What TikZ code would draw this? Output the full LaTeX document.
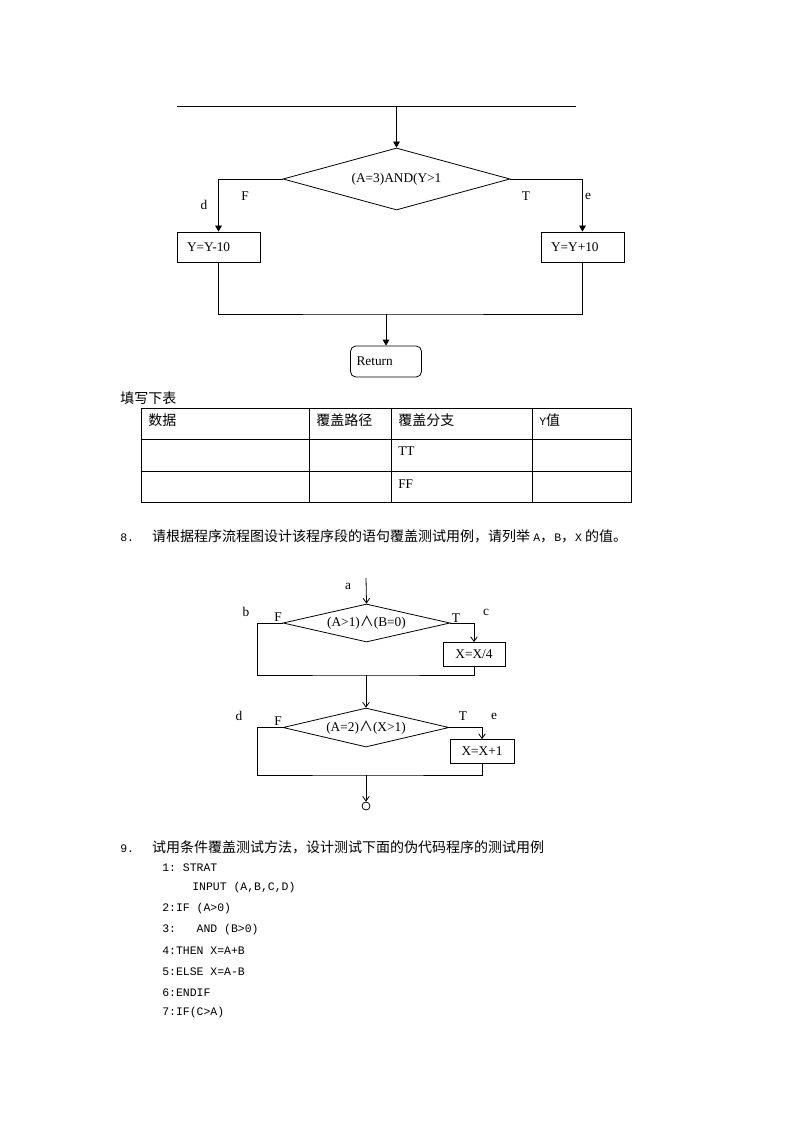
\documentclass[tikz,border=0pt]{standalone}
\usepackage{fontspec}
\setmainfont{Liberation Serif}
\setmonofont{Liberation Mono}
\newfontfamily\cjk{Noto Sans CJK SC}
\usetikzlibrary{shapes.geometric, arrows.meta}

\tikzset{
  flowline/.style={line width=0.6pt},
  fillarrow/.style={flowline, -{Triangle[length=4.5pt,width=5pt]}},
  openarrow/.style={flowline, -{Straight Barb[length=3.5pt,width=5pt]}},
  procbox/.style={draw, line width=0.6pt, inner sep=0pt, font=\fontsize{10}{12}\selectfont},
  decision/.style={draw, diamond, line width=0.6pt, inner sep=0pt, font=\fontsize{10}{12}\selectfont},
  lbl/.style={inner sep=0pt, font=\fontsize{10}{12}\selectfont},
  cntext/.style={anchor=west, inner sep=0pt, font=\cjk\fontsize{10.5}{12}\selectfont},
  codeline/.style={anchor=west, inner sep=0pt, font=\ttfamily\fontsize{8.6}{10}\selectfont},
}
\newcommand{\andsym}{{\cjk\fontsize{10.5}{12}\selectfont ∧}}

\begin{document}
\begin{tikzpicture}[x=0.75pt, y=-0.75pt]
\useasboundingbox (0,0) rectangle (794,1123);

% first flow chart
\coordinate (topL) at (177,106);
\coordinate (topR) at (576,106);
\draw[flowline] (topL) -- (topR);
\node[decision, aspect=3.66, minimum width=170.25pt, minimum height=46.5pt] (cond) at (396.5,179) {(A=3)AND(Y>1};
\node[procbox, minimum height=22.5pt, text width=47.25pt, inner xsep=7.5pt, align=left] (boxF) at (218.5,247) {Y=Y-10};
\node[procbox, minimum height=22.5pt, text width=47.25pt, inner xsep=7.5pt, align=left] (boxT) at (582.5,247) {Y=Y+10};
\node[procbox, rounded corners=4pt, minimum height=23.25pt, text width=44.25pt, inner xsep=4.5pt, align=left] (ret) at (386,361.5) {Return};
\coordinate (join) at (386,314);
\draw[fillarrow] (cond.north |- topL) -- (cond.north);
\draw[fillarrow] (cond.west) -| (boxF.north);
\draw[fillarrow] (cond.east) -| (boxT.north);
\draw[flowline] (boxF.south) |- (join) -| (boxT.south);
\draw[fillarrow] (join) -- (ret.north);
\node[lbl] (lF) at (245,196) {F};
\node[lbl] (ld) at (204,205) {d};
\node[lbl] (lT) at (526,196) {T};
\node[lbl] (le) at (588,196) {e};

% table
\node[cntext] (fill) at (120,398) {填写下表};
\draw[flowline] (141,408) rectangle (631,502);
\foreach \y in {439,471} \draw[flowline] (141,\y) -- (631,\y);
\foreach \x in {309,391,532} \draw[flowline] (\x,408) -- (\x,502);
\node[cntext] (h1) at (148,420) {数据};
\node[cntext] (h2) at (316,420) {覆盖路径};
\node[cntext] (h3) at (398,420) {覆盖分支};
\node[cntext] (h4) at (539,420) {{\ttfamily\fontsize{8.6}{10}\selectfont Y}值};
\node[lbl, anchor=west] (tt) at (398,451) {TT};
\node[lbl, anchor=west] (ff) at (398,484) {FF};

% question 8
\node[cntext] (q8) at (120,536) {{\ttfamily\fontsize{8.6}{10}\selectfont 8.}\hspace{1.3em}请根据程序流程图设计该程序段的语句覆盖测试用例，请列举 {\ttfamily\fontsize{8.6}{10}\selectfont A}，{\ttfamily\fontsize{8.6}{10}\selectfont B}，{\ttfamily\fontsize{8.6}{10}\selectfont X} 的值。};

% second flow chart
\coordinate (entry) at (366,578);
\node[decision, aspect=4.39, minimum width=125.25pt, minimum height=28.5pt] (c1) at (366.5,623) {(A>1)\andsym(B=0)};
\node[procbox, minimum width=46.5pt, minimum height=18pt] (b1) at (474,654.5) {X=X/4};
\coordinate (m1) at (366,675);
\node[decision, aspect=4.26, minimum width=124.5pt, minimum height=29.25pt] (c2) at (366,727.5) {(A=2)\andsym(X>1)};
\node[procbox, minimum width=48pt, minimum height=18pt] (b2) at (482,751.5) {X=X+1};
\coordinate (m2) at (366,775);
\node[draw, circle, line width=0.6pt, minimum size=6pt, inner sep=0pt] (stop) at (366,806) {};
\draw[openarrow] (entry) -- (c1.north);
\draw[openarrow] (c1.east) -| (b1.north);
\draw[flowline] (c1.west) -- ++(-25,0) |- (m1) -| (b1.south);
\draw[openarrow] (m1) -- (c2.north);
\draw[openarrow] (c2.east) -| (b2.north);
\draw[flowline] (c2.west) -- ++(-25,0) |- (m2) -| (b2.south);
\draw[openarrow] (m2) -- (stop.north);
\node[lbl] (la) at (348,586) {a};
\node[lbl] (lb) at (246,612) {b};
\node[lbl] (lF1) at (278,617) {F};
\node[lbl] (lT1) at (456,618) {T};
\node[lbl] (lc) at (486,612) {c};
\node[lbl] (ld2) at (239,716) {d};
\node[lbl] (lF2) at (278,721) {F};
\node[lbl] (lT2) at (463,716) {T};
\node[lbl] (le2) at (494,716) {e};

% question 9
\node[cntext] (q9) at (120,847) {{\ttfamily\fontsize{8.6}{10}\selectfont 9.}\hspace{1.3em}试用条件覆盖测试方法，设计测试下面的伪代码程序的测试用例};
\node[codeline] (s1) at (162,868) {1: STRAT};
\node[codeline] (s1b) at (192,888) {INPUT (A,B,C,D)};
\node[codeline] (s2) at (162,909) {2:IF (A>0)};
\node[codeline] (s3) at (162,930) {3:\ \ \ AND (B>0)};
\node[codeline] (s4) at (162,951) {4:THEN X=A+B};
\node[codeline] (s5) at (162,972) {5:ELSE X=A-B};
\node[codeline] (s6) at (162,993) {6:ENDIF};
\node[codeline] (s7) at (162,1013) {7:IF(C>A)};
\end{tikzpicture}
\end{document}
